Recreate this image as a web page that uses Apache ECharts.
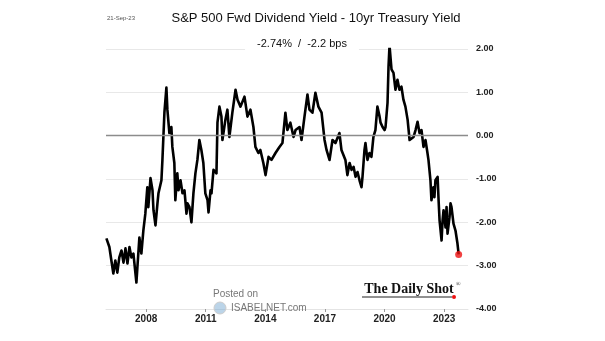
<!DOCTYPE html>
<html><head><meta charset="utf-8">
<script src="https://cdn.jsdelivr.net/npm/echarts@6/dist/echarts.min.js"></script>
<style>html,body{margin:0;padding:0;background:#fff}#c{width:605px;height:341px}</style>
</head><body><div id="c"></div>
<script>
const titleText = 'S&P 500 Fwd Dividend Yield - 10yr Treasury Yield';
const subtitleText = '-2.74%  /  -2.2 bps';
const dateText = '21-Sep-23';
const xTickYears = [2008, 2011, 2014, 2017, 2020, 2023];
const years = [
2006.00,2006.15,2006.25,2006.35,2006.45,2006.55,2006.65,2006.76,2006.86,2006.96,
2007.06,2007.16,2007.26,2007.36,2007.51,2007.56,2007.66,2007.76,2007.86,2007.96,
2008.06,2008.11,2008.22,2008.32,2008.37,2008.47,2008.57,2008.62,2008.77,2008.82,
2008.92,2009.02,2009.07,2009.17,2009.27,2009.32,2009.42,2009.47,2009.57,2009.63,
2009.73,2009.83,2009.93,2010.03,2010.08,2010.18,2010.28,2010.38,2010.48,2010.58,
2010.68,2010.78,2010.88,2010.98,2011.09,2011.14,2011.24,2011.29,2011.39,2011.54,
2011.59,2011.69,2011.79,2011.84,
2011.99,2012.09,2012.19,2012.34,2012.50,2012.60,2012.75,2012.95,2013.10,2013.25,
2013.40,2013.50,2013.65,2013.75,2013.90,2014.01,2014.16,2014.31,2014.51,2014.71,
2014.86,2015.01,2015.11,2015.26,2015.42,2015.52,2015.72,2015.82,2015.97,2016.12,
2016.22,2016.37,2016.52,2016.67,2016.83,2016.98,2017.08,2017.23,2017.38,2017.53,
2017.73,2017.83,
2017.93,2018.03,2018.13,2018.24,2018.34,2018.44,2018.54,2018.64,2018.74,2018.84,
2018.89,2018.99,2019.04,2019.14,2019.24,2019.34,2019.44,2019.54,2019.64,2019.75,
2019.80,2019.90,2020.00,2020.05,2020.15,2020.20,2020.25,2020.35,2020.45,2020.55,
2020.65,2020.75,2020.85,2020.95,2021.05,2021.16,2021.26,2021.36,2021.46,2021.56,
2021.66,2021.76,2021.86,2021.96,2022.06,2022.16,2022.21,2022.31,2022.36,2022.46,
2022.51,2022.56,2022.67,2022.72,2022.77,2022.87,2022.92,2022.97,2023.07,2023.12,
2023.17,2023.27,2023.32,2023.37,2023.47,2023.57,2023.67,2023.73];
const values = [
-2.37,-2.57,-2.88,-3.18,-2.88,-3.16,-2.81,-2.65,-2.93,-2.60,
-2.95,-2.57,-2.81,-2.72,-3.39,-3.04,-2.35,-2.72,-2.19,-1.80,
-1.19,-1.65,-0.98,-1.26,-1.72,-2.07,-1.56,-1.33,-1.03,-0.56,
0.53,1.11,0.60,0.06,0.20,-0.26,-0.63,-1.49,-0.87,-1.26,
-1.03,-1.33,-1.26,-1.80,-1.56,-1.65,-2.00,-1.33,-0.87,-0.56,
-0.10,-0.33,-0.63,-1.33,-1.49,-1.77,-1.26,-1.33,-0.79,-0.87,
0.30,0.67,0.44,-0.10,
0.37,0.60,-0.03,0.53,1.06,0.83,0.67,0.90,0.44,0.60,
0.20,-0.26,-0.40,-0.33,-0.63,-0.91,-0.49,-0.56,-0.40,-0.26,
-0.17,0.53,0.13,0.30,-0.03,0.13,0.20,-0.10,0.44,0.95,
0.60,0.53,0.99,0.67,0.53,-0.10,-0.33,-0.56,-0.10,-0.17,
0.06,-0.33,
-0.33,-0.56,-0.91,-0.63,-0.79,-0.72,-0.95,-0.84,-1.03,-1.19,
-0.95,-0.33,-0.17,-0.56,-0.40,-0.49,-0.03,0.13,0.67,0.44,
0.30,0.20,0.13,0.20,0.76,1.60,2.08,1.53,1.45,1.06,
1.29,1.06,1.13,0.83,0.67,0.37,-0.10,-0.14,-0.03,0.13,
0.32,0.06,0.13,-0.26,-0.10,-0.40,-0.56,-1.03,-1.49,-1.19,
-1.42,-1.03,-0.95,-1.49,-1.96,-2.42,-1.96,-1.72,-2.12,-1.65,
-2.26,-1.88,-1.56,-1.65,-2.03,-2.19,-2.49,-2.74];

const lineData = years.map((y, i) => [y, values[i]]);
const lastPoint = [lineData[lineData.length - 1]];
const FONT = 'Liberation Sans, Arial, sans-serif';

const chart = echarts.init(document.getElementById('c'), null, {renderer: 'canvas'});
chart.setOption({
  animation: false,
  backgroundColor: '#ffffff',
  grid: {left: 106, right: 137, top: 49, bottom: 32},
  xAxis: {
    type: 'value', min: 2005.98, max: 2024.2,
    splitLine: {show: false},
    axisLine: {show: true, onZero: false, lineStyle: {color: '#e4e4e4', width: 1}},
    axisTick: {show: true, customValues: xTickYears, length: 3, lineStyle: {color: '#999'}},
    axisLabel: {customValues: xTickYears, formatter: v => String(Math.round(v)),
      color: '#222', fontWeight: 'bold', fontSize: 10, fontFamily: FONT, margin: 5}
  },
  yAxis: {
    type: 'value', position: 'right', min: -4, max: 2, interval: 1,
    axisLine: {show: false}, axisTick: {show: false},
    splitLine: {show: true, lineStyle: {color: '#e8e8e8', width: 1}},
    axisLabel: {formatter: v => v.toFixed(2), color: '#222', fontWeight: 'bold', fontSize: 9,
      fontFamily: FONT, margin: 8}
  },
  series: [
    {type: 'line', data: lineData, showSymbol: false, symbol: 'none',
      lineStyle: {color: '#000', width: 2.6, join: 'round'}, z: 3,
      markLine: {silent: true, symbol: 'none', label: {show: false},
        lineStyle: {color: '#8c8c8c', width: 1.3, type: 'solid'}, data: [{yAxis: 0}]}},
    {type: 'scatter', data: lastPoint, symbolSize: 7, itemStyle: {color: '#ee1111'}, z: 4}
  ],
  graphic: [
    {type: 'text', left: 107, top: 15, style: {text: dateText, fontSize: 6, fill: '#555', fontFamily: FONT}},
    {type: 'text', x: 316, y: 18, style: {text: titleText, fontSize: 13, fill: '#111', align: 'center', verticalAlign: 'middle', fontFamily: FONT}},
    {type: 'text', x: 302, y: 44, z: 10, style: {text: subtitleText, fontSize: 11, fill: '#111', align: 'center', verticalAlign: 'middle',
      fontFamily: FONT, backgroundColor: '#fff', padding: [2, 12]}},
    {type: 'text', x: 409, y: 289, z: 10, style: {text: 'The Daily Shot', fontSize: 14, fontWeight: 'bold', fill: '#111', align: 'center', verticalAlign: 'middle', fontFamily: 'Liberation Serif, Times New Roman, serif'}},
    {type: 'text', x: 456, y: 284, z: 10, style: {text: '®', fontSize: 6, fill: '#111', align: 'left', verticalAlign: 'middle', fontFamily: 'Liberation Serif'}},
    {type: 'line', z: 10, shape: {x1: 362, y1: 297, x2: 452, y2: 297}, style: {stroke: '#222', lineWidth: 1}},
    {type: 'circle', z: 10, shape: {cx: 454, cy: 297, r: 2}, style: {fill: '#e11'}},
    {type: 'text', x: 213, y: 294, z: 10, style: {text: 'Posted on', fontSize: 10, fill: '#777', align: 'left', verticalAlign: 'middle', fontFamily: FONT}},
    {type: 'circle', z: 10, shape: {cx: 220, cy: 308, r: 6}, style: {fill: 'rgba(120,170,210,0.5)', stroke: '#ccc'}},
    {type: 'text', x: 231, y: 308, z: 10, style: {text: 'ISABELNET.com', fontSize: 10, fill: '#777', align: 'left', verticalAlign: 'middle', fontFamily: FONT}}
  ]
});
</script></body></html>
